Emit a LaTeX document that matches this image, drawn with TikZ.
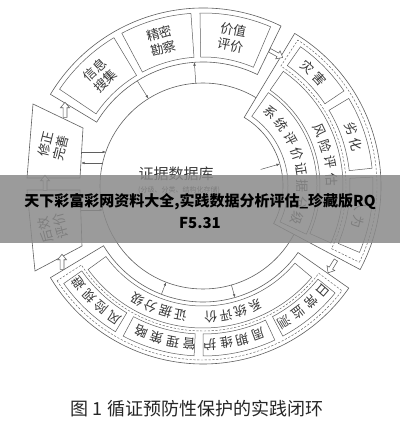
\documentclass[tikz,border=0pt]{standalone}
\usepackage{fontspec}
\newfontfamily\cjk{Noto Sans CJK SC}
\usetikzlibrary{arrows.meta,shapes.arrows}
\definecolor{linegray}{RGB}{95,95,95}
\definecolor{textgray}{RGB}{55,55,55}
\definecolor{bannergray}{RGB}{138,138,138}

% annular piece: [style]{from}{to}{inner r}{outer r}
\newcommand\ringpart[5][]{%
  \draw[#1] (#2:#5) arc[start angle=#2,end angle=#3,radius=#5]
    -- (#3:#4) arc[start angle=#3,end angle=#2,radius=#4] -- cycle;}
% characters set clockwise round the centre: {name}{r}{first angle}{step}{chars}
\newcommand\arcword[5]{%
  \foreach \ch [count=\k] in {#5}
    \node[glyph,rotate={#3-(\k-1)*#4-90}] (#1-\k) at ({#3-(\k-1)*#4}:#2) {\ch};}

\begin{document}
\begin{tikzpicture}[x=1pt,y=1pt,
  ring/.style={draw=linegray,line width=0.6pt,fill=white},
  cell/.style={draw=linegray,line width=0.5pt},
  dashcell/.style={draw=linegray,line width=0.45pt,dash pattern=on 2.2pt off 1.6pt},
  hollow/.style={single arrow,draw=linegray,fill=white,line width=0.55pt,inner sep=1.7pt,
    minimum height=15pt,single arrow head extend=2.6pt,single arrow tip angle=80},
  link/.style={draw=linegray,line width=0.5pt,-{Latex[length=3.5pt,width=2.6pt]}},
  glyph/.style={font=\cjk\fontsize{13}{13}\selectfont,text=textgray,inner sep=0pt},
  boxtext/.style={font=\cjk\fontsize{13}{15.5}\selectfont,text=textgray,align=center,inner sep=0pt}]
\useasboundingbox (0,0) rectangle (400,421);
\fill[white] (0,0) rectangle (400,421);
\begin{scope}[shift={(203,235)}]
% centre
\draw[ring] (0,0) circle[radius=103];
\node[boxtext,font=\cjk\fontsize{15}{15}\selectfont] (db) at (-27,12) {证据数据库};
\node[boxtext,font=\cjk\fontsize{7}{7}\selectfont] (dbnote) at (-24,-4) {(分级、分类、结构化存储)};
% top
\ringpart[ring]{64}{149}{124}{178}
\ringpart[cell]{121}{146}{129}{173}
\ringpart[cell]{94}{118}{129}{173}
\ringpart[cell]{67}{91}{129}{173}
\node[boxtext,rotate=43] (collect) at (133:151) {信息\\搜集};
\node[boxtext,rotate=16] (survey) at (106:151) {精密\\勘察};
\node[boxtext,rotate=-11] (value) at (79:151) {价值\\评价};
% right
\ringpart[ring]{-28}{59}{80}{178}
\ringpart[dashcell]{-26}{57}{143}{174}
\ringpart[cell]{34}{55}{147}{170}
\ringpart[cell]{6}{31}{147}{170}
\ringpart[cell]{-23}{3}{147}{170}
\ringpart[cell]{-24}{55}{117}{140}
\ringpart[cell]{-25}{55}{85}{114}
\arcword{hazard}{158.5}{48.5}{6}{灾,害}
\arcword{decay}{158.5}{21}{6}{劣,化}
\arcword{human}{158.5}{-7}{6}{人,为}
\arcword{risk}{129}{25.5}{7.5}{风,险,评,估}
\arcword{grade}{99.5}{47.5}{9.5}{系,统,评,价,证,据,分,级}
% bottom
\ringpart[ring]{211}{325}{116}{178}
\ringpart[dashcell]{213}{323}{145}{174}
\ringpart[cell]{215}{239}{148}{170}
\ringpart[cell]{242}{267}{148}{170}
\ringpart[cell]{270}{295}{148}{170}
\ringpart[cell]{298}{321}{148}{170}
\ringpart[cell]{216}{320}{120}{142}
\arcword{avoid}{158.5}{236}{6}{风,险,规,避}
\arcword{manage}{158.5}{265}{6}{管,理,策,略}
\arcword{maintain}{158.5}{290.5}{6}{周,期,维,护}
\arcword{monitor}{158.5}{319}{6}{日,常,监,测}
\arcword{review}{131}{293.5}{6.7}{系,统,评,价}
\arcword{rank}{131}{260}{6.7}{证,据,分,级}
% left
\draw[ring] (-170,82) -- (-120,58) -- (-123,8) -- (-176,8) -- cycle;
\draw[ring] (-176,-4) -- (-123,-4) -- (-121,-60) -- (-168,-85) -- cycle;
\node[boxtext,rotate=76] (revise) at (-150,40) {修正\\完善};
\node[boxtext,rotate=105] (after) at (-150,-42) {后效\\评价};
% links with the database
\coordinate (l1a) at (122:124); \coordinate (l1b) at (122:103);
\coordinate (l2a) at (94:103); \coordinate (l2b) at (94:124);
\coordinate (l3a) at (-121,34); \coordinate (l3b) at (-97,34);
\coordinate (l4a) at (-100,23); \coordinate (l4b) at (-122,23);
\coordinate (l5a) at (-122,-24); \coordinate (l5b) at (-100,-24);
\coordinate (l6a) at (249:116); \coordinate (l6b) at (249:103);
\coordinate (l7a) at (286:103); \coordinate (l7b) at (286:116);
\coordinate (l8a) at (16:60); \coordinate (l8b) at (16:80);
\foreach \i in {1,...,8} \draw[link] (l\i a) -- (l\i b);
% hollow arrows of the loop
\node[hollow,rotate=-28.5] (toRisk) at (61.5:151) {};
\node[hollow,rotate=-121.5] (toCare) at (-31.5:152) {};
\node[hollow,rotate=90] (toAfter) at (-141,-77) {};
\node[hollow,rotate=90] (toRevise) at (-158,2) {};
\node[hollow,rotate=90] (toCollect) at (-138,75) {};
\end{scope}
% overlay band
\fill[bannergray,opacity=0.85] (0,178) rectangle (400,246);
\node[font=\cjk\bfseries\fontsize{15}{22}\selectfont,align=center,text=black] (banner) at (200,210) {天下彩富彩网资料大全,实践数据分析评估\_珍藏版RQ\\F5.31};
\node[font=\cjk\fontsize{18}{18}\selectfont,text=black!85] (caption) at (197,12) {图 1 循证预防性保护的实践闭环};
\end{tikzpicture}
\end{document}
